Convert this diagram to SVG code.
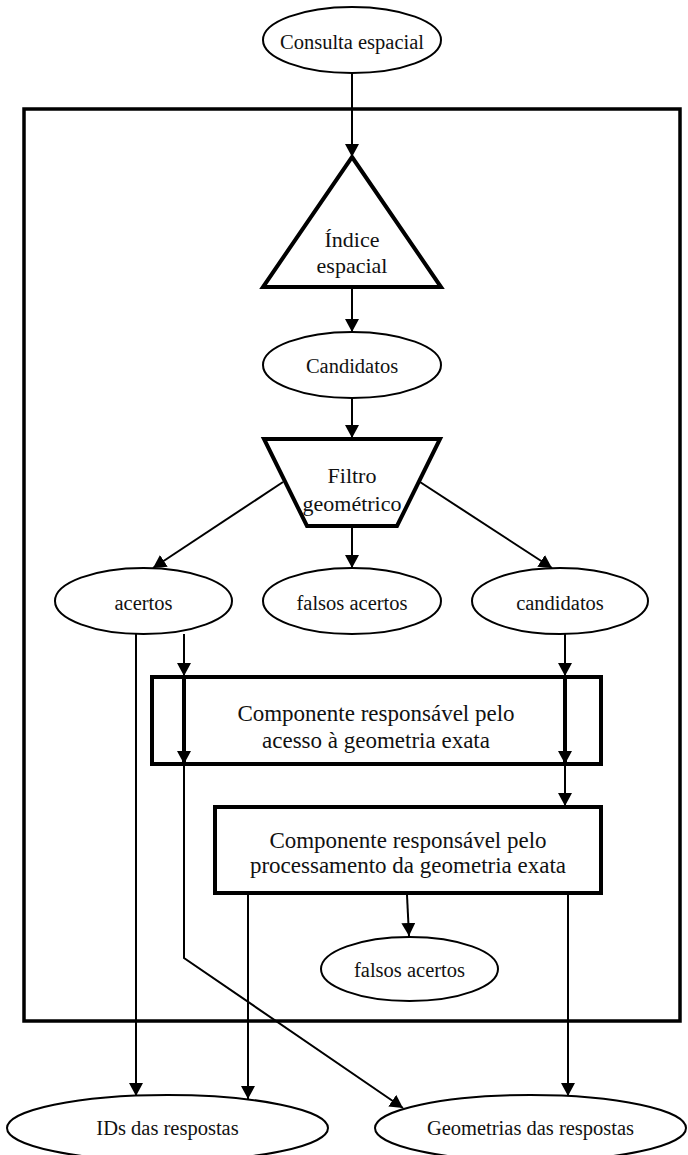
<svg xmlns="http://www.w3.org/2000/svg" width="688" height="1155" viewBox="0 0 688 1155">
<defs>
<marker id="ah" viewBox="0 0 13 14" refX="13" refY="7" markerWidth="13" markerHeight="14" markerUnits="userSpaceOnUse" orient="auto">
<path d="M0,0 L13,7 L0,14 z" fill="#000"/>
</marker>
</defs>
<style>
.el{fill:#fff;stroke:#000;stroke-width:2}
.thick{fill:#fff;stroke:#000;stroke-width:4}
.t{font-family:"Liberation Serif","Times New Roman",serif;font-size:20.5px;fill:#111;text-anchor:middle}
.tb{font-family:"Liberation Serif","Times New Roman",serif;font-size:22px;fill:#111;text-anchor:middle}
.tx{font-family:"Liberation Serif","Times New Roman",serif;font-size:23px;fill:#111;text-anchor:middle}
.c{fill:none;stroke:#000;stroke-width:2;marker-end:url(#ah)}
.ci{fill:none;stroke:#000;stroke-width:4;marker-end:url(#ah)}
.cn{fill:none;stroke:#000;stroke-width:2}
</style>
<g id="frame"><rect x="24" y="109" width="656" height="912" fill="none" stroke="#000" stroke-width="3.5"/></g>
<g id="consulta"><ellipse class="el" cx="352" cy="40" rx="89" ry="33"/><text class="t" x="352" y="49">Consulta espacial</text></g>
<g id="indice"><polygon class="thick" points="352,157 441,287 263,287"/><text class="tb" x="352" y="247">Índice</text><text class="tb" x="352" y="273">espacial</text></g>
<g id="candidatos1"><ellipse class="el" cx="352" cy="365" rx="89" ry="33"/><text class="t" x="352" y="373">Candidatos</text></g>
<g id="filtro"><polygon class="thick" points="264,439 440,439 397,526 307,526"/><text class="tb" x="352" y="483">Filtro</text><text class="tb" x="352" y="511">geométrico</text></g>
<g id="acertos"><ellipse class="el" cx="143.5" cy="601" rx="88.5" ry="33"/><text class="t" x="143.5" y="610">acertos</text></g>
<g id="falsos1"><ellipse class="el" cx="352" cy="601" rx="89" ry="33"/><text class="t" x="352" y="610">falsos acertos</text></g>
<g id="candidatos2"><ellipse class="el" cx="560" cy="601" rx="88" ry="33"/><text class="t" x="560" y="610">candidatos</text></g>
<g id="acesso"><rect class="thick" x="152" y="677" width="449" height="87"/><text class="tx" x="376" y="721">Componente responsável pelo</text><text class="tx" x="376" y="748">acesso à geometria exata</text></g>
<g id="processamento"><rect class="thick" x="215" y="807" width="386" height="86"/><text class="tx" x="408" y="848">Componente responsável pelo</text><text class="tx" x="408" y="873">processamento da geometria exata</text></g>
<g id="falsos2"><ellipse class="el" cx="409.5" cy="969" rx="88.5" ry="32"/><text class="t" x="409.5" y="977">falsos acertos</text></g>
<g id="ids"><ellipse class="el" cx="167.5" cy="1128" rx="160.5" ry="33"/><text class="t" x="167.5" y="1135">IDs das respostas</text></g>
<g id="geometrias"><ellipse class="el" cx="530.5" cy="1128" rx="155.5" ry="33"/><text class="t" x="530.5" y="1135">Geometrias das respostas</text></g>
<g id="connectors">
<line class="c" x1="352" y1="73" x2="352" y2="157"/>
<line class="c" x1="352" y1="289" x2="352" y2="332"/>
<line class="c" x1="352" y1="398" x2="352" y2="438"/>
<line class="c" x1="283" y1="482" x2="153" y2="568"/>
<line class="c" x1="352" y1="528" x2="352" y2="568"/>
<line class="c" x1="420" y1="482" x2="552" y2="568"/>
<line class="c" x1="136" y1="634" x2="136" y2="1096"/>
<line class="c" x1="184" y1="634" x2="184" y2="676"/>
<line class="ci" x1="184" y1="677" x2="184" y2="764"/>
<polyline class="c" points="184,764 184,958 403,1108"/>
<line class="c" x1="565" y1="634" x2="565" y2="676"/>
<line class="ci" x1="565" y1="677" x2="565" y2="764"/>
<line class="c" x1="565" y1="764" x2="565" y2="806"/>
<line class="c" x1="407" y1="895" x2="409" y2="936"/>
<line class="c" x1="248" y1="895" x2="248" y2="1099"/>
<line class="c" x1="568" y1="895" x2="568" y2="1096"/>
</g>
</svg>
